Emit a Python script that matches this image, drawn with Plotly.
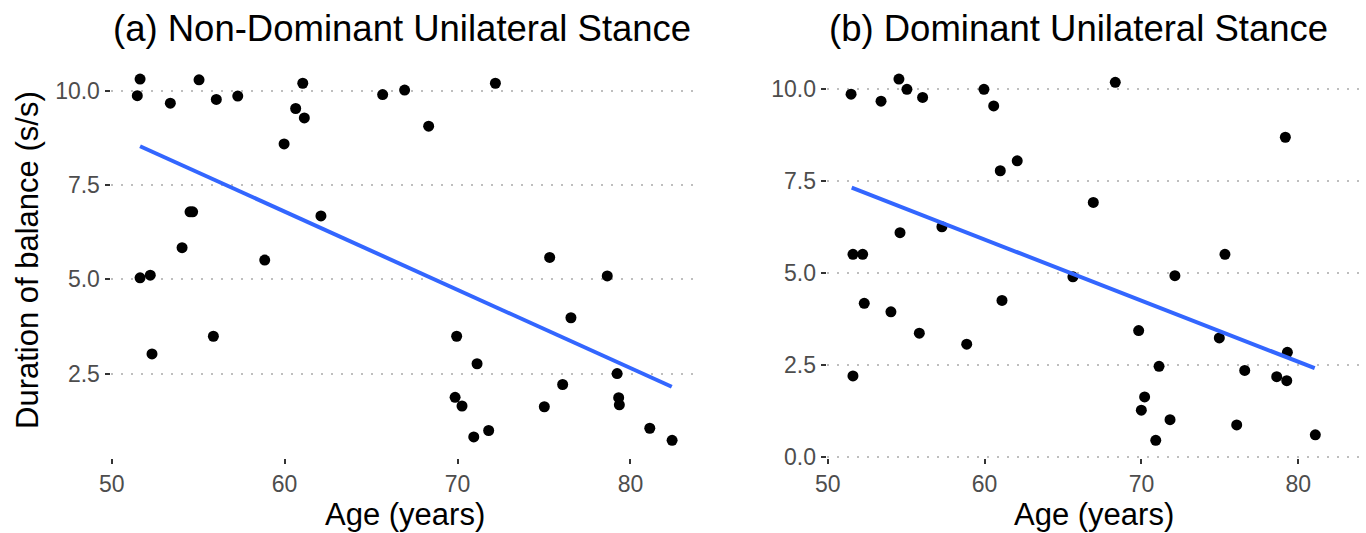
import plotly.graph_objects as go

# Panel (a): Non-Dominant Unilateral Stance
age_nd = [51.64, 51.48, 53.39, 55.05, 56.05, 57.29, 61.05, 60.64, 61.14, 59.97,
          54.53, 54.68, 62.10, 54.07, 58.85, 51.64, 52.23, 55.88, 52.33,
          65.67, 66.94, 68.33, 72.19, 75.33, 78.66,
          76.56, 69.95, 71.13, 79.23, 76.08, 69.86, 70.26, 79.32, 79.36, 75.02,
          71.80, 70.94, 81.12, 82.41]
bal_nd = [10.31, 9.87, 9.67, 10.29, 9.77, 9.86, 10.20, 9.53, 9.28, 8.59,
          6.79, 6.79, 6.68, 5.84, 5.51, 5.04, 5.11, 3.49, 3.02,
          9.90, 10.02, 9.06, 10.20, 5.58, 5.09,
          3.98, 3.49, 2.76, 2.50, 2.21, 1.87, 1.64, 1.86, 1.67, 1.62,
          0.99, 0.82, 1.05, 0.73]
fit_nd_x = [51.64, 82.39]
fit_nd_y = [8.53, 2.15]

# Panel (b): Dominant Unilateral Stance
age_d = [51.49, 53.40, 54.54, 55.05, 56.05, 59.96, 60.58, 61.00, 62.08, 54.61,
         57.28, 51.61, 52.23, 68.33, 79.17, 66.93, 75.32, 65.63, 72.13,
         52.33, 54.03, 61.11, 55.84, 58.86, 51.61,
         69.82, 74.96, 79.30, 71.12, 76.58, 78.62, 79.26, 70.20, 69.99, 71.82,
         76.07, 70.91, 81.08]
bal_d = [9.86, 9.67, 10.27, 9.99, 9.77, 9.99, 9.54, 7.78, 8.05, 6.10,
         6.26, 5.51, 5.51, 10.18, 8.69, 6.92, 5.51, 4.90, 4.93,
         4.18, 3.95, 4.26, 3.37, 3.07, 2.21,
         3.44, 3.24, 2.85, 2.47, 2.36, 2.19, 2.08, 1.64, 1.28, 1.02,
         0.88, 0.46, 0.61]
fit_d_x = [51.53, 81.04]
fit_d_y = [7.32, 2.42]

titles = ["(a) Non-Dominant Unilateral Stance", "(b) Dominant Unilateral Stance"]
x_title = "Age (years)"
y_title = "Duration of balance (s/s)"
x_ticks = [50, 60, 70, 80]
y_ticks_a = [2.5, 5.0, 7.5, 10.0]
y_ticks_b = [0.0, 2.5, 5.0, 7.5, 10.0]

FONT = "Liberation Sans, Arial, sans-serif"
W, H = 1366, 533
dom_a = [110.5 / W, 698.9 / W]
dom_b = [826.6 / W, 1360.5 / W]
ydom = [1 - 458.4 / H, 1 - 61 / H]

fig = go.Figure()
fig.add_trace(go.Scatter(x=age_nd, y=bal_nd, mode="markers",
                         marker=dict(color="black", size=11), xaxis="x", yaxis="y",
                         showlegend=False, hoverinfo="x+y"))
fig.add_trace(go.Scatter(x=fit_nd_x, y=fit_nd_y, mode="lines",
                         line=dict(color="#3366FF", width=4), xaxis="x", yaxis="y",
                         showlegend=False))
fig.add_trace(go.Scatter(x=age_d, y=bal_d, mode="markers",
                         marker=dict(color="black", size=11), xaxis="x2", yaxis="y2",
                         showlegend=False, hoverinfo="x+y"))
fig.add_trace(go.Scatter(x=fit_d_x, y=fit_d_y, mode="lines",
                         line=dict(color="#3366FF", width=4), xaxis="x2", yaxis="y2",
                         showlegend=False))

common_x = dict(range=[49.93, 83.96], tickvals=x_ticks, ticks="outside", ticklen=5,
                tickwidth=2, tickcolor="#333333", showgrid=False, zeroline=False,
                showline=False, automargin=False,
                tickfont=dict(family=FONT, size=23, color="#4D4D4D"))
common_y = dict(ticks="outside", ticklen=5, tickwidth=2, tickcolor="#333333",
                showgrid=True, gridcolor="#BEBEBE", griddash="2px,8px", gridwidth=1.8,
                zeroline=False, showline=False, automargin=False,
                tickfont=dict(family=FONT, size=23, color="#4D4D4D"), domain=ydom)

def ann(text, x, y, size, xanchor="center", angle=0):
    return dict(text=text, x=x, y=y, xref="paper", yref="paper", xanchor=xanchor,
                yanchor="middle", showarrow=False, textangle=angle,
                font=dict(family=FONT, size=size, color="black"))

fig.update_layout(
    width=W, height=H,
    margin=dict(l=0, r=0, t=0, b=0),
    plot_bgcolor="white", paper_bgcolor="white",
    font=dict(family=FONT),
    xaxis=dict(domain=dom_a, anchor="y", **common_x),
    yaxis=dict(range=[0.25, 10.79], tickvals=y_ticks_a,
               ticktext=[f"{v:.1f}" for v in y_ticks_a], anchor="x", **common_y),
    xaxis2=dict(domain=dom_b, anchor="y2", **common_x),
    yaxis2=dict(range=[-0.03, 10.76], tickvals=y_ticks_b,
                ticktext=[f"{v:.1f}" for v in y_ticks_b], anchor="x2", **common_y),
    annotations=[
        ann(titles[0], dom_a[0], 1 - 28 / H, 36.5, xanchor="left"),
        ann(titles[1], dom_b[0], 1 - 28 / H, 36.5, xanchor="left"),
        ann(x_title, sum(dom_a) / 2, 1 - 514 / H, 31),
        ann(x_title, sum(dom_b) / 2, 1 - 514 / H, 31),
        ann(y_title, 27 / W, 1 - 260 / H, 31, angle=-90),
    ],
)

fig.write_html("out.html", config={"displayModeBar": False},
               post_script="document.body.style.margin='0';")
